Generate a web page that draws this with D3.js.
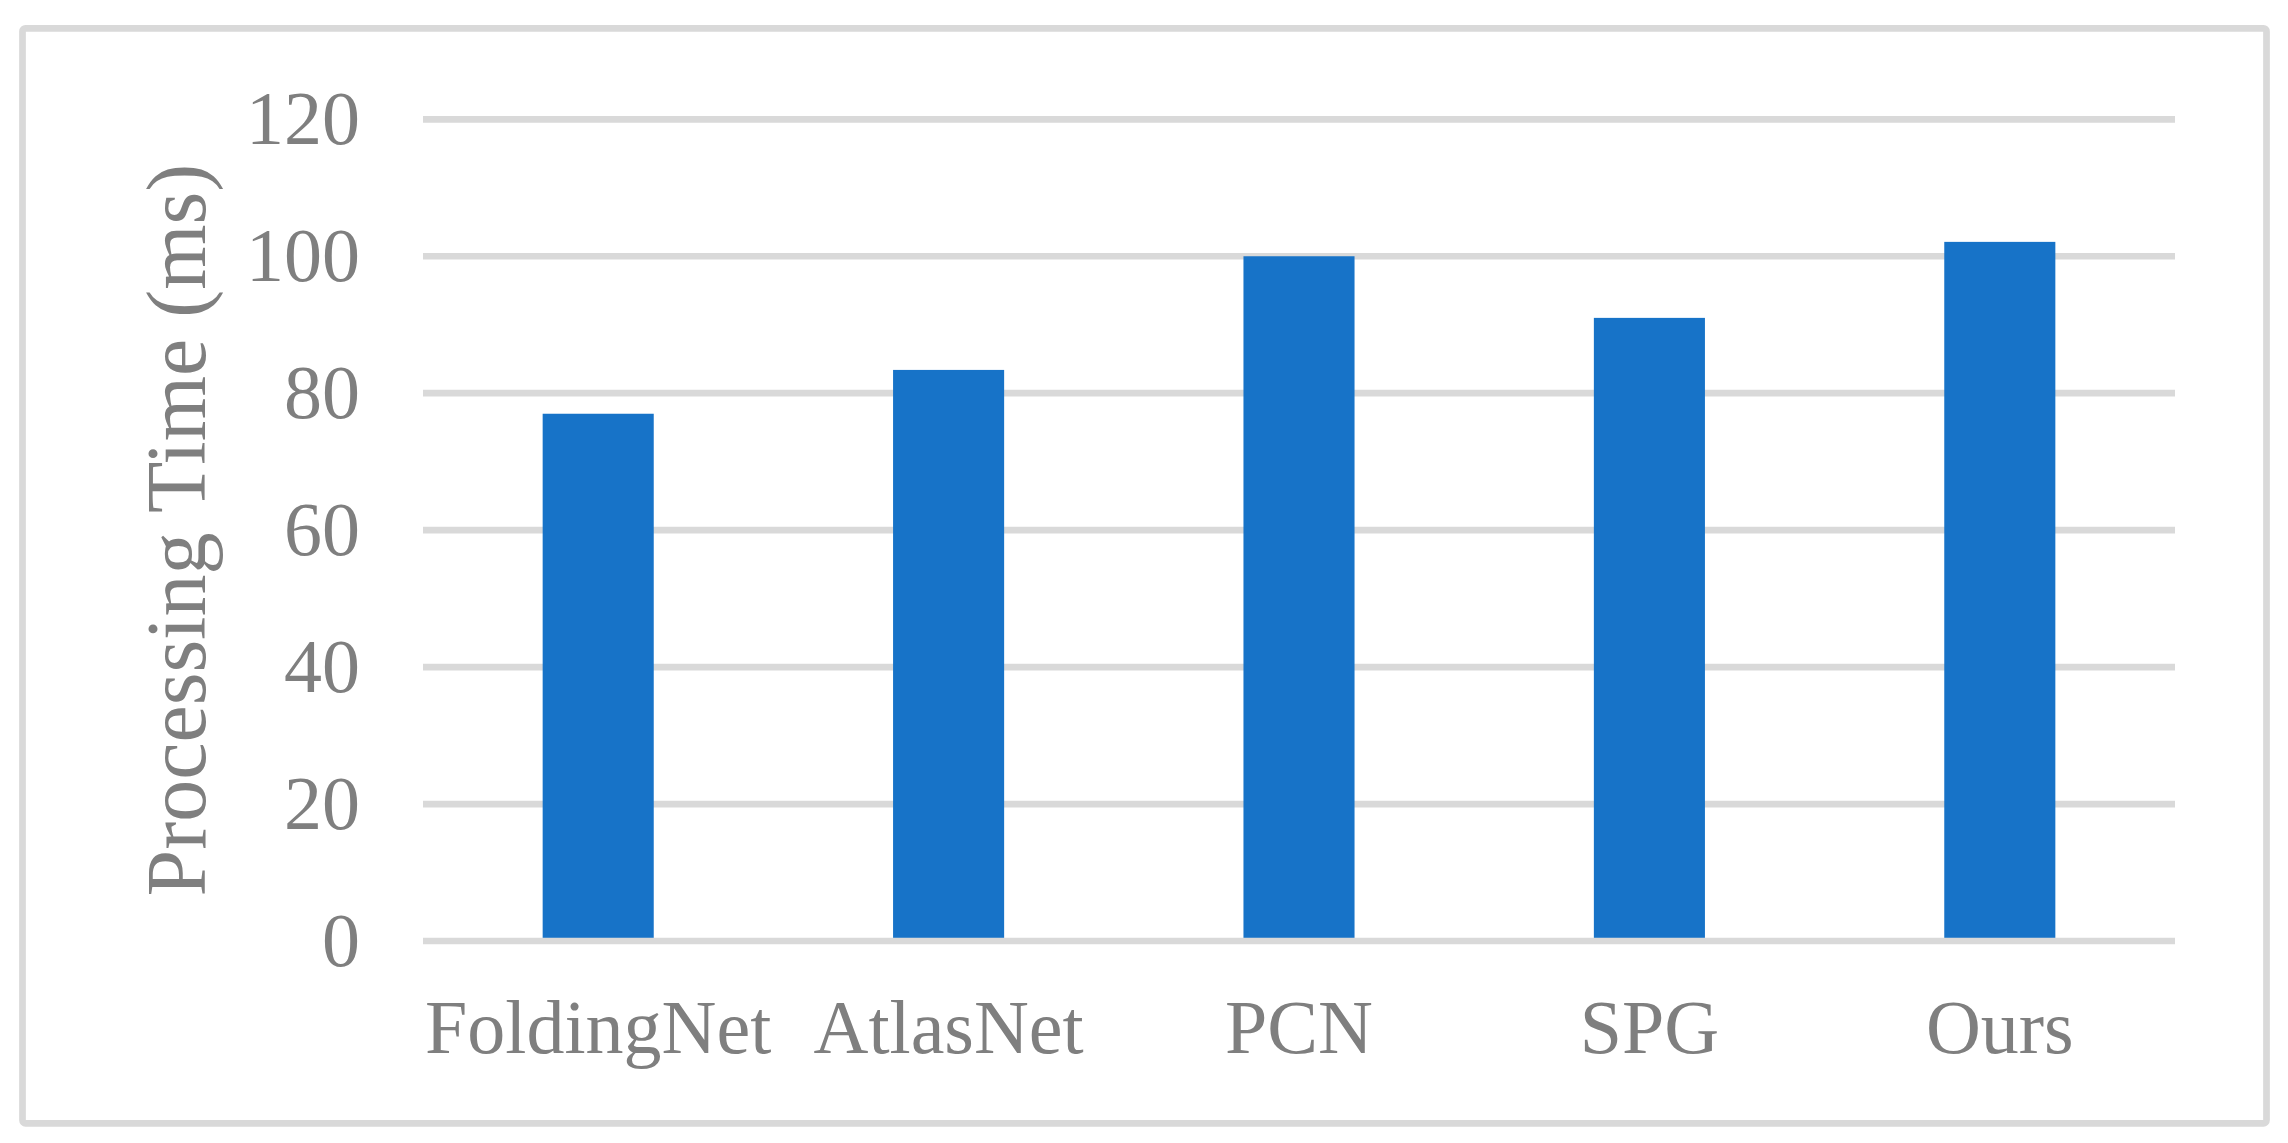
<!DOCTYPE html>
<html>
<head>
<meta charset="utf-8">
<script src="https://cdn.jsdelivr.net/npm/d3@7"></script>
<style>
  html, body { margin: 0; padding: 0; background: #fff; }
  svg { display: block; }
  text { font-family: "Liberation Serif", "Times New Roman", serif; fill: #7f7f7f; }
</style>
</head>
<body>
<svg id="chart" width="2288" height="1143"></svg>
<script>
const categories = ["FoldingNet", "AtlasNet", "PCN", "SPG", "Ours"];
const values = [77, 83.4, 100, 91, 102.1];
const yTicks = [0, 20, 40, 60, 80, 100, 120];
const yTitle = "Processing Time (ms)";

(function () {
const svg = d3.select("#chart");

// outer border
svg.append("rect")
  .attr("x", 22.5).attr("y", 28.3)
  .attr("width", 2266.5 - 22.5).attr("height", 1123.3 - 28.3)
  .attr("rx", 3).attr("ry", 3)
  .attr("fill", "#fff")
  .attr("stroke", "#d9d9d9").attr("stroke-width", 6.7);

const plotL = 423, plotR = 2175, plotT = 119.3, plotB = 941;

const x = d3.scaleBand()
  .domain(categories)
  .range([plotL, plotR])
  .paddingInner(0.683)
  .paddingOuter(0.683 / 2);

const y = d3.scaleLinear().domain([0, 120]).range([plotB, plotT]);

// gridlines (except 0)
svg.append("g").selectAll("line")
  .data(yTicks.filter(d => d !== 0))
  .join("line")
  .attr("x1", plotL).attr("x2", plotR)
  .attr("y1", d => y(d)).attr("y2", d => y(d))
  .attr("stroke", "#d9d9d9").attr("stroke-width", 6.7);

// bars
svg.append("g").selectAll("rect")
  .data(values)
  .join("rect")
  .attr("x", (d, i) => x(categories[i]))
  .attr("width", x.bandwidth())
  .attr("y", d => y(d))
  .attr("height", d => y(0) - y(d))
  .attr("fill", "#1773c8");

// zero axis line on top
svg.append("line")
  .attr("x1", plotL).attr("x2", plotR)
  .attr("y1", y(0)).attr("y2", y(0))
  .attr("stroke", "#d9d9d9").attr("stroke-width", 6.7);

// y tick labels
svg.append("g").selectAll("text")
  .data(yTicks)
  .join("text")
  .attr("x", 360)
  .attr("y", d => y(d) + 24.5)
  .attr("text-anchor", "end")
  .attr("font-size", 76)
  .text(d => d);

// x labels
svg.append("g").selectAll("text")
  .data(categories)
  .join("text")
  .attr("x", d => x(d) + x.bandwidth() / 2)
  .attr("y", 1053)
  .attr("text-anchor", "middle")
  .attr("font-size", 76)
  .text(d => d);

// y title
svg.append("text")
  .attr("transform", `translate(205, ${(plotT + plotB) / 2}) rotate(-90)`)
  .attr("text-anchor", "middle")
  .attr("font-size", 84)
  .text(yTitle);
})();
</script>
</body>
</html>
